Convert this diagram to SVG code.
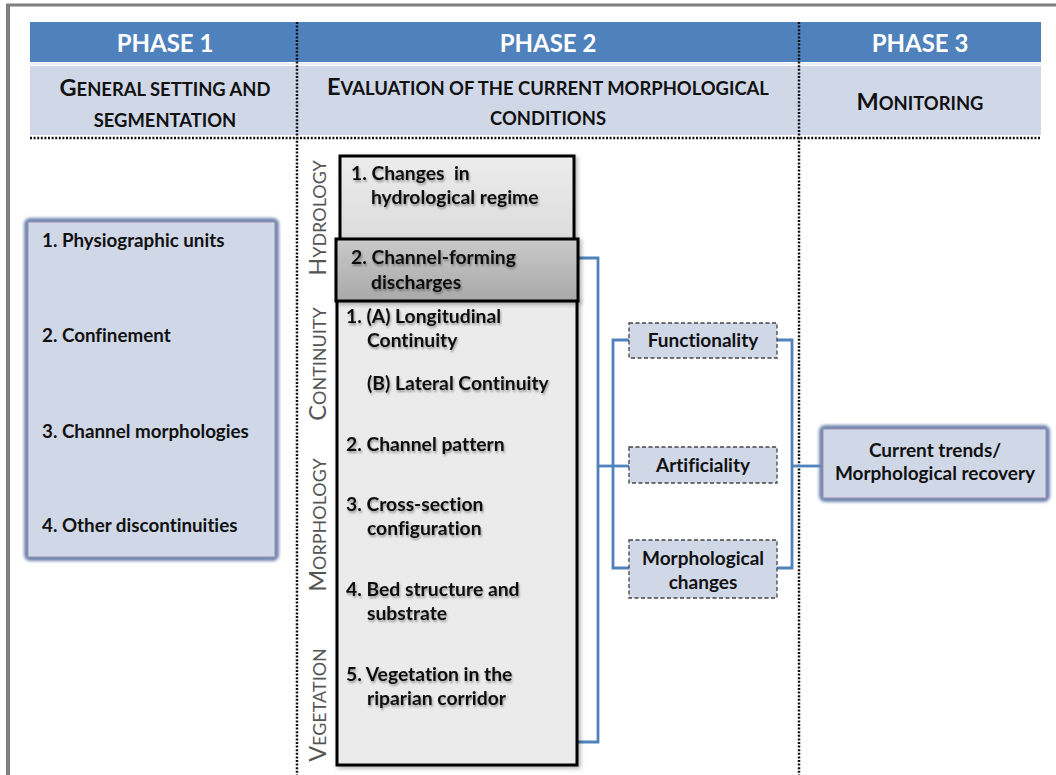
<svg xmlns="http://www.w3.org/2000/svg" width="1056" height="775" viewBox="0 0 1056 775">
<defs>
<style>
text{font-variant-ligatures:none;white-space:pre}
.hdr{font-family:Lato,"Liberation Sans",sans-serif;font-weight:bold;font-size:24px;fill:#fff;text-anchor:middle}
.sc{font-family:Lato,"Liberation Sans",sans-serif;font-weight:bold;font-size:18.4px;fill:#111;text-anchor:middle}
.big{font-size:23.5px}
.vl{font-family:Lato,"Liberation Sans",sans-serif;font-size:18px;fill:#555;text-anchor:middle}
.item{font-family:Lato,"Liberation Sans",sans-serif;font-weight:bold;font-size:18.8px;fill:#111}
.mid{font-family:Lato,"Liberation Sans",sans-serif;font-weight:bold;font-size:19.3px;fill:#111}
.box{font-family:Lato,"Liberation Sans",sans-serif;font-weight:bold;font-size:19px;fill:#111;text-anchor:middle}
.dot{stroke:#111;stroke-width:2.5;stroke-dasharray:2 1.6;fill:none}
.con{stroke:#4f81bd;stroke-width:2.8;fill:none}
.dash{fill:#d0d8e8;stroke:#444;stroke-width:1.3;stroke-dasharray:4 2.5}
.glow{fill:none;stroke:#6f86ad;stroke-width:6}
.pan{fill:#d0d8e8;stroke:#9b8db5;stroke-width:1}
.blk{stroke:#000;stroke-width:3}
</style>
<filter id="blur" x="-10%" y="-10%" width="120%" height="120%"><feGaussianBlur stdDeviation="1.6"/></filter>
<filter id="ts" x="-10%" y="-30%" width="120%" height="170%"><feDropShadow dx="1" dy="2" stdDeviation="1.3" flood-color="#000" flood-opacity="0.35"/></filter>
<filter id="bs" x="-5%" y="-5%" width="115%" height="115%"><feDropShadow dx="2" dy="2" stdDeviation="2" flood-color="#000" flood-opacity="0.3"/></filter>
<linearGradient id="g1" x1="0" y1="0" x2="0" y2="1"><stop offset="0" stop-color="#ececec"/><stop offset="1" stop-color="#dcdcdc"/></linearGradient>
<linearGradient id="g2" x1="0" y1="0" x2="0" y2="1"><stop offset="0" stop-color="#c9c9c9"/><stop offset="1" stop-color="#a9a9a9"/></linearGradient>
</defs>
<rect width="1056" height="775" fill="#fff"/>
<g id="frame">
<line x1="8" y1="775" x2="8" y2="5" stroke="#7f7f7f" stroke-width="4"/>
<line x1="6" y1="5" x2="1056" y2="5" stroke="#7f7f7f" stroke-width="3"/>
</g>
<g id="header">
<rect x="30" y="22" width="1011" height="40" fill="#4f81bd"/>
<rect x="30" y="63" width="1011" height="2" fill="#e8eef7"/>
<rect x="30" y="66" width="1011" height="69" fill="#d0d8e8"/>
<text class="hdr" x="165" y="52">PHASE 1</text>
<text class="hdr" x="548" y="52">PHASE 2</text>
<text class="hdr" x="920" y="52">PHASE 3</text>
<text class="sc" x="165" y="96"><tspan class="big">G</tspan>ENERAL SETTING AND</text>
<text class="sc" x="165" y="127">SEGMENTATION</text>
<text class="sc" x="548" y="95"><tspan class="big">E</tspan>VALUATION OF THE CURRENT MORPHOLOGICAL</text>
<text class="sc" x="548" y="125">CONDITIONS</text>
<text class="sc" x="920" y="110"><tspan class="big">M</tspan>ONITORING</text>
<line class="dot" x1="30" y1="138" x2="1041" y2="138"/>
<line class="dot" x1="297" y1="22" x2="297" y2="775"/>
<line class="dot" x1="799" y1="22" x2="799" y2="775"/>
</g>
<g id="vlabels">
<text class="vl" transform="translate(326,218) rotate(-90)"><tspan font-size="23.5">H</tspan>YDROLOGY</text>
<text class="vl" transform="translate(326,364) rotate(-90)"><tspan font-size="23.5">C</tspan>ONTINUITY</text>
<text class="vl" transform="translate(326,525) rotate(-90)"><tspan font-size="23.5">M</tspan>ORPHOLOGY</text>
<text class="vl" transform="translate(326,705) rotate(-90)"><tspan font-size="23.5">V</tspan>EGETATION</text>
</g>
<g id="phase1-box">
<rect class="glow" x="27" y="221" width="249" height="337" rx="3" filter="url(#blur)"/>
<rect class="pan" x="28" y="222" width="247" height="335"/>
<text class="item" x="42" y="247">1. Physiographic units</text>
<text class="item" x="42" y="342">2. Confinement</text>
<text class="item" x="42" y="438">3. Channel morphologies</text>
<text class="item" x="42" y="532">4. Other discontinuities</text>
</g>
<g id="connectors">
<polyline class="con" points="578,258 598,258 598,742 578,742"/>
<line class="con" x1="598" y1="466" x2="630" y2="466"/>
<polyline class="con" points="630,340 613,340 613,568 630,568"/>
<polyline class="con" points="777,340 792,340 792,568 777,568"/>
<line class="con" x1="792" y1="466" x2="822" y2="466"/>
</g>
<g id="main-box" filter="url(#bs)">
<rect class="blk" x="337" y="300" width="240" height="465" fill="#ebebeb"/>
</g>
<g id="hydro-box" filter="url(#bs)">
<rect class="blk" x="340" y="156" width="234" height="84" fill="url(#g1)"/>
</g>
<g id="discharge-box" filter="url(#bs)">
<rect class="blk" x="336" y="239" width="242" height="62" fill="url(#g2)"/>
</g>
<g id="mid-texts" filter="url(#ts)">
<text class="mid" x="351" y="180">1. Changes  in</text>
<text class="mid" x="371" y="204">hydrological regime</text>
<text class="mid" x="351" y="264">2. Channel-forming</text>
<text class="mid" x="371" y="289">discharges</text>
<text class="mid" x="346" y="323">1. (A) Longitudinal</text>
<text class="mid" x="367" y="347">Continuity</text>
<text class="mid" x="367" y="390">(B) Lateral Continuity</text>
<text class="mid" x="346" y="451">2. Channel pattern</text>
<text class="mid" x="346" y="511">3. Cross-section</text>
<text class="mid" x="367" y="535">configuration</text>
<text class="mid" x="346" y="596">4. Bed structure and</text>
<text class="mid" x="367" y="620">substrate</text>
<text class="mid" x="346" y="681">5. Vegetation in the</text>
<text class="mid" x="367" y="705">riparian corridor</text>
</g>
<g id="functionality">
<rect class="dash" x="629" y="323" width="148" height="35"/>
<text class="box" x="703" y="347">Functionality</text>
</g>
<g id="artificiality">
<rect class="dash" x="629" y="447" width="148" height="36"/>
<text class="box" x="703" y="472">Artificiality</text>
</g>
<g id="morph-changes">
<rect class="dash" x="629" y="540" width="148" height="58"/>
<text class="box" x="703" y="565">Morphological</text>
<text class="box" x="703" y="589">changes</text>
</g>
<g id="current-trends">
<rect class="glow" x="822" y="428" width="225" height="71" rx="3" filter="url(#blur)"/>
<rect class="pan" x="823" y="429" width="223" height="69"/>
<text class="box" x="935" y="457" font-size="17.8">Current trends/</text>
<text class="box" x="935" y="480" font-size="17.8">Morphological recovery</text>
</g>
</svg>
